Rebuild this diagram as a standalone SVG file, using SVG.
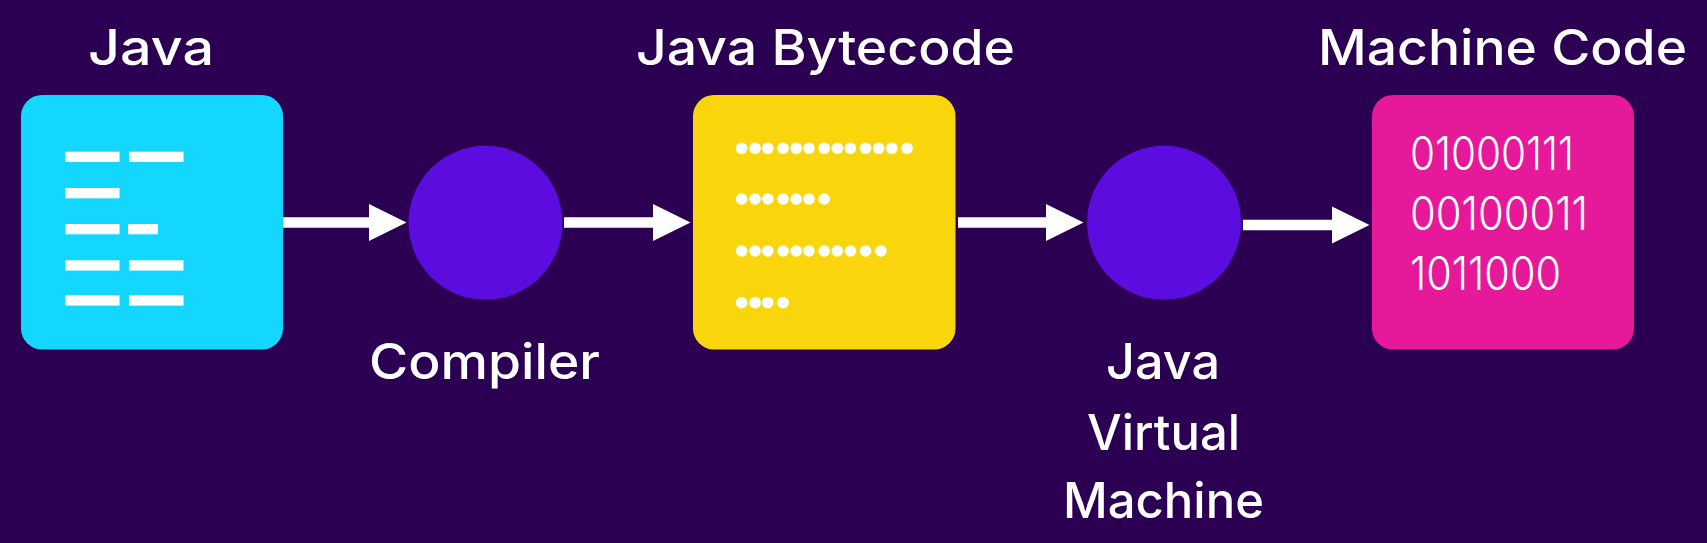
<svg xmlns="http://www.w3.org/2000/svg" width="1707" height="543" viewBox="0 0 1707 543">
<style>
.lbl{font-family:"Inter","Liberation Sans",sans-serif;font-weight:500;font-size:49px;fill:#fff;text-anchor:start}
.bin{font-family:"Inter","Liberation Sans",sans-serif;font-weight:300;font-size:46px;fill:#fff}
.box{stroke:none}
.proc{fill:#5c0cde}
.bar{fill:#fff}
.dot{fill:#fff}
.wire{stroke:#fff;stroke-width:10.5;fill:none}
</style>
<defs>
<marker id="head" markerUnits="userSpaceOnUse" markerWidth="38" markerHeight="38" viewBox="0 0 38 38" refX="0" refY="19" orient="auto"><polygon points="0,0.5 37.5,19 0,37.5" fill="#fff"/></marker>
</defs>
<rect width="1707" height="543" fill="#2b0052"/>
<g id="connectors">
<line class="wire" x1="283" y1="222.5" x2="369" y2="222.5" marker-end="url(#head)"/>
<line class="wire" x1="564" y1="222.5" x2="653" y2="222.5" marker-end="url(#head)"/>
<line class="wire" x1="958" y1="222.5" x2="1046" y2="222.5" marker-end="url(#head)"/>
<line class="wire" x1="1243" y1="225" x2="1332" y2="225" marker-end="url(#head)"/>
</g>
<g id="java">
<text class="lbl" x="88" y="65" textLength="126" lengthAdjust="spacingAndGlyphs">Java</text>
<rect class="box" x="21" y="95" width="262" height="254.500" rx="21" fill="#14d7ff"/>
<rect class="bar" x="65.500" y="151.700" width="54" height="10.300"/><rect class="bar" x="129" y="151.700" width="54.500" height="10.300"/>
<rect class="bar" x="65.500" y="188" width="54" height="10.300"/>
<rect class="bar" x="65.500" y="224" width="54" height="10.300"/><rect class="bar" x="128" y="224" width="30" height="10.300"/>
<rect class="bar" x="65.500" y="260.300" width="54" height="10.300"/><rect class="bar" x="129" y="260.300" width="54.500" height="10.300"/>
<rect class="bar" x="65.500" y="295.300" width="54" height="10.300"/><rect class="bar" x="129" y="295.300" width="54.500" height="10.300"/>
</g>
<g id="compiler">
<circle class="proc" cx="485.500" cy="222.800" r="77"/>
<text class="lbl" x="369" y="379" textLength="231" lengthAdjust="spacingAndGlyphs">Compiler</text>
</g>
<g id="bytecode">
<text class="lbl" x="636" y="65" textLength="379" lengthAdjust="spacingAndGlyphs">Java Bytecode</text>
<rect class="box" x="693" y="95" width="262.500" height="254.500" rx="21" fill="#f9d60c"/>
<g class="dot">
<circle cx="741.600" cy="148.300" r="5.800"/><circle cx="755.100" cy="148.300" r="5.800"/><circle cx="767.800" cy="148.300" r="5.800"/><circle cx="783.100" cy="148.300" r="5.800"/><circle cx="796.200" cy="148.300" r="5.800"/><circle cx="808.900" cy="148.300" r="5.800"/><circle cx="824.200" cy="148.300" r="5.800"/><circle cx="837.300" cy="148.300" r="5.800"/><circle cx="850.400" cy="148.300" r="5.800"/><circle cx="865.600" cy="148.300" r="5.800"/><circle cx="878.700" cy="148.300" r="5.800"/><circle cx="891.800" cy="148.300" r="5.800"/><circle cx="907.100" cy="148.300" r="5.800"/>
<circle cx="741.600" cy="199" r="5.800"/><circle cx="755.100" cy="199" r="5.800"/><circle cx="767.800" cy="199" r="5.800"/><circle cx="783.100" cy="199" r="5.800"/><circle cx="796.200" cy="199" r="5.800"/><circle cx="808.900" cy="199" r="5.800"/><circle cx="824.200" cy="199" r="5.800"/>
<circle cx="741.600" cy="251" r="5.800"/><circle cx="755.100" cy="251" r="5.800"/><circle cx="767.800" cy="251" r="5.800"/><circle cx="783.100" cy="251" r="5.800"/><circle cx="796.200" cy="251" r="5.800"/><circle cx="808.900" cy="251" r="5.800"/><circle cx="824.200" cy="251" r="5.800"/><circle cx="837.300" cy="251" r="5.800"/><circle cx="850.400" cy="251" r="5.800"/><circle cx="865.600" cy="251" r="5.800"/><circle cx="880.900" cy="251" r="5.800"/>
<circle cx="741.600" cy="302.700" r="5.800"/><circle cx="755.100" cy="302.700" r="5.800"/><circle cx="767.800" cy="302.700" r="5.800"/><circle cx="783.100" cy="302.700" r="5.800"/>
</g>
</g>
<g id="jvm">
<circle class="proc" cx="1164" cy="222.800" r="77"/>
<text class="lbl" x="1106" y="379" textLength="114" lengthAdjust="spacingAndGlyphs">Java</text>
<text class="lbl" x="1087" y="450" textLength="153" lengthAdjust="spacingAndGlyphs">Virtual</text>
<text class="lbl" x="1063" y="518" textLength="201" lengthAdjust="spacingAndGlyphs">Machine</text>
</g>
<g id="machine-code">
<text class="lbl" x="1318" y="65" textLength="369" lengthAdjust="spacingAndGlyphs">Machine Code</text>
<rect class="box" x="1372" y="95" width="262" height="254.500" rx="21" fill="#e6199b"/>
<text class="bin" x="1410" y="170" textLength="164" lengthAdjust="spacingAndGlyphs">01000111</text>
<text class="bin" x="1410" y="230" textLength="178" lengthAdjust="spacingAndGlyphs">00100011</text>
<text class="bin" x="1410" y="290" textLength="151" lengthAdjust="spacingAndGlyphs">1011000</text>
</g>
</svg>
